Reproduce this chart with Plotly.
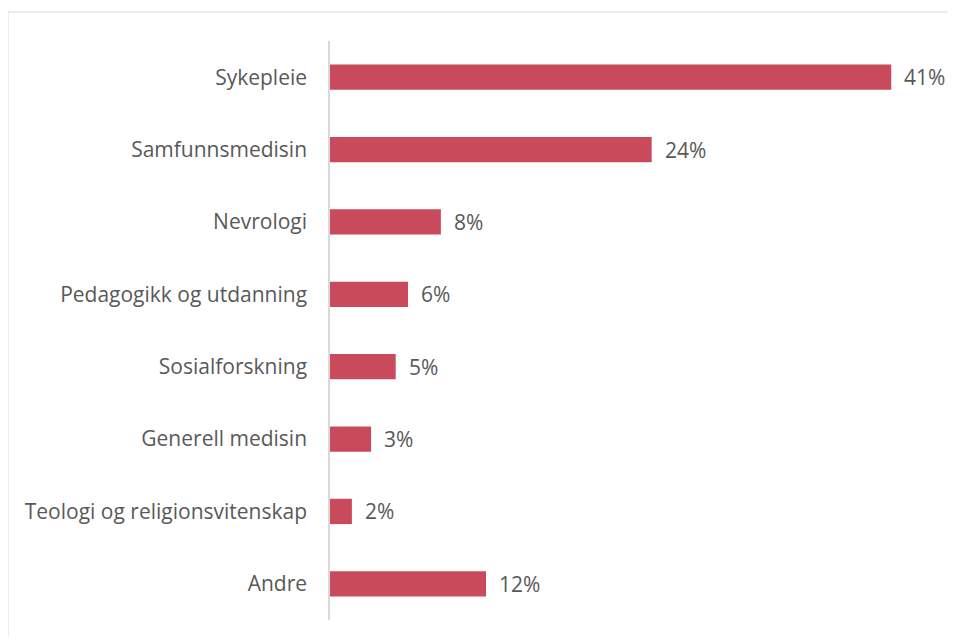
import plotly.graph_objects as go

categories = ["Sykepleie", "Samfunnsmedisin", "Nevrologi", "Pedagogikk og utdanning",
              "Sosialforskning", "Generell medisin", "Teologi og religionsvitenskap", "Andre"]
values = [41.0, 23.5, 8.1, 5.7, 4.8, 3.0, 1.6, 11.4]
labels = ["41%", "24%", "8%", "6%", "5%", "3%", "2%", "12%"]

OFF = 8  # page body margin
W, H = 956 - 2 * OFF, 644 - 2 * OFF
L, R, T = 330 - OFF, 2, 41 - OFF
B = H - T - 579
pw, ph = W - L - R, H - T - B
FONT = "Open Sans, sans-serif"
FS = 21

fig = go.Figure(go.Bar(
    x=values, y=categories, orientation="h",
    marker=dict(color="#C94A5A", line=dict(width=0)),
    hoverinfo="skip",
))

for c, v, t in zip(categories, values, labels):
    fig.add_annotation(x=v, y=c, text=t, showarrow=False, xanchor="left",
                       xshift=11, font=dict(family=FONT, size=FS, color="#595959"))

fig.add_shape(type="rect", xref="paper", yref="paper",
              x0=(8 - OFF - L) / pw, x1=2, y0=-1, y1=1 + (T - (12 - OFF)) / ph,
              line=dict(color="#D9D9D9", width=1), fillcolor="rgba(0,0,0,0)", layer="below")

fig.update_layout(
    width=W, height=H,
    margin=dict(l=L, r=R, t=T, b=B),
    paper_bgcolor="white", plot_bgcolor="white",
    bargap=0.65, showlegend=False,
    xaxis=dict(range=[0, 45], visible=False, fixedrange=True),
    yaxis=dict(categoryorder="array", categoryarray=categories[::-1],
               showline=True, linecolor="#D9D9D9", linewidth=1.5,
               showgrid=False, ticks="", ticklabelstandoff=17,
               tickfont=dict(family=FONT, size=FS, color="#595959"),
               fixedrange=True),
)

fig.write_html("out.html")
